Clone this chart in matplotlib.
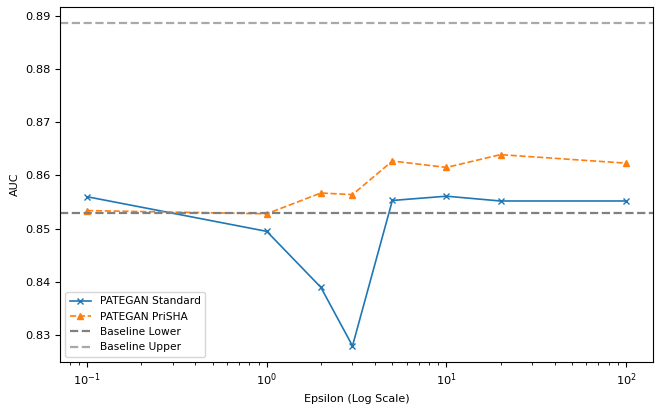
import matplotlib
matplotlib.use("Agg")
import matplotlib.pyplot as plt

epsilons = [0.1, 1, 2, 3, 5, 10, 20, 100]
auc_standard = [0.8560, 0.8495, 0.8390, 0.8280, 0.8553, 0.8561, 0.8552, 0.8552]
auc_prisha = [0.8534, 0.8528, 0.8567, 0.8564, 0.8627, 0.8615, 0.8639, 0.8623]
baseline_lower = 0.8530
baseline_upper = 0.8886

fig, ax = plt.subplots(figsize=(6.61, 4.05), dpi=100)
ax.plot(epsilons, auc_standard, marker="x", linestyle="-", lw=1.2, ms=5,
        label="PATEGAN Standard")
ax.plot(epsilons, auc_prisha, marker="^", linestyle="--", lw=1.2, ms=5,
        label="PATEGAN PriSHA")
ax.axhline(baseline_lower, color="gray", linestyle="--", linewidth=1.6, label="Baseline Lower")
ax.axhline(baseline_upper, color="darkgray", linestyle="--", linewidth=1.6, label="Baseline Upper")
ax.set_xscale("log")
ax.set_xlabel("Epsilon (Log Scale)", fontsize=8)
ax.set_ylabel("AUC", fontsize=8)
ax.tick_params(labelsize=8.2)
ax.legend(loc="lower left", fontsize=7.7)
fig.subplots_adjust(left=0.091, right=0.988, top=0.983, bottom=0.106)
fig.savefig("out.png", dpi=100)
